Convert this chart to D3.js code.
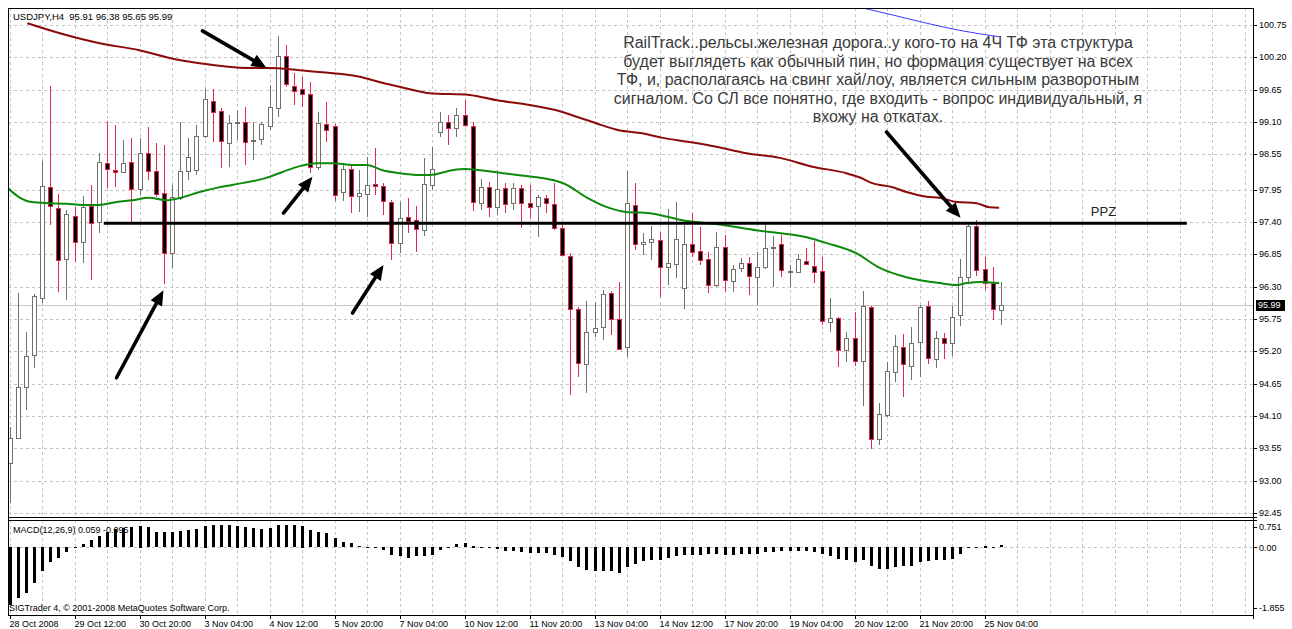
<!DOCTYPE html>
<html>
<head>
<meta charset="utf-8">
<script src="https://cdn.jsdelivr.net/npm/d3@7"></script>
<style>
  body { margin: 0; background: #fff; }
  text { font-family: "Liberation Sans", Arial, sans-serif; }
</style>
</head>
<body>
<div id="chart"></div>
<script>
// USDJPY H4, 28 Oct - 25 Nov 2008, one value per bar
const opens = [93.30,93.73,94.59,95.14,96.11,98.00,97.64,96.77,97.50,97.06,97.67,97.40,98.40,98.28,98.25,98.42,97.96,98.57,98.27,97.89,
  96.87,97.81,98.27,98.28,98.86,99.46,99.29,98.74,99.08,99.10,98.79,98.81,99.03,99.34,100.22,99.71,99.66,99.58,98.34,99.07,
  99.03,97.91,98.30,97.84,97.88,98.04,98.01,97.74,97.04,97.48,97.43,97.26,98.03,98.93,99.10,99.00,99.22,99.03,97.72,97.99,
  97.65,97.98,97.72,97.98,97.72,97.67,97.81,97.71,97.30,96.82,95.92,94.98,95.53,95.61,96.19,95.75,95.27,97.69,97.03,97.06,
  97.09,96.63,96.69,96.28,97.03,96.91,96.77,96.33,96.97,96.40,96.62,96.70,96.46,96.63,96.97,97.03,96.56,96.55,96.74,96.65,
  96.57,95.70,95.77,95.22,95.43,95.04,95.95,93.71,94.12,94.85,95.27,94.95,95.36,95.97,95.07,95.43,95.34,95.82,96.46,97.33,
  96.60,96.36,95.91];
const highs = [93.91,96.19,95.53,96.18,98.44,99.71,97.88,97.60,97.65,97.84,98.03,98.57,99.12,99.05,98.79,98.83,98.83,99.02,98.74,98.71,
  98.03,99.10,98.83,99.05,99.66,99.66,99.34,99.22,99.30,99.36,99.10,99.10,99.73,100.56,100.41,99.93,99.87,99.78,99.27,99.44,
  99.07,98.40,98.35,98.28,98.50,98.66,98.06,97.78,97.74,97.81,97.67,98.49,98.67,99.27,99.22,99.34,99.47,99.10,98.13,98.08,
  98.28,98.06,98.06,98.03,98.03,97.86,97.86,98.06,97.40,96.87,95.95,96.06,96.04,96.24,96.23,96.38,98.27,98.06,97.21,97.33,
  97.23,97.62,97.74,97.35,97.55,97.31,96.89,97.23,97.18,96.67,96.79,96.80,96.89,97.40,97.16,97.18,96.67,96.86,96.96,97.08,
  96.80,96.11,95.78,95.53,95.87,96.23,95.97,94.32,95.02,95.48,95.49,95.61,95.99,96.06,95.55,95.51,95.97,96.77,97.37,97.43,
  96.80,96.63,96.38];
const lows = [92.62,93.71,94.20,94.92,96.02,97.35,96.21,96.07,96.72,96.70,96.41,97.21,97.98,97.99,98.23,97.40,97.86,98.11,97.82,96.35,
  96.62,97.77,98.11,98.20,98.83,98.76,98.32,98.34,98.79,98.37,98.45,98.71,98.96,99.19,99.70,99.39,99.36,98.23,98.28,98.76,
  97.75,97.76,97.55,97.57,97.48,97.86,97.52,96.75,96.87,97.21,96.89,97.16,97.94,98.85,98.71,98.85,99.02,97.59,97.60,97.48,
  97.52,97.55,97.60,97.30,97.47,97.14,97.55,97.26,96.82,94.46,94.76,94.49,95.44,95.39,95.48,95.22,95.10,96.92,96.84,96.75,
  96.12,96.33,96.45,95.92,96.80,96.67,96.19,96.29,96.21,96.21,96.55,96.16,95.99,96.60,96.29,96.46,96.29,96.53,96.67,96.36,
  95.65,95.53,94.93,95.02,94.95,94.27,93.54,93.61,94.08,94.68,94.42,94.71,94.76,94.98,94.92,95.07,95.12,95.63,96.38,96.48,
  96.24,95.73,95.65];
const closes = [93.73,94.59,95.12,96.14,98.01,97.67,96.75,97.54,97.06,97.65,97.38,98.42,98.30,98.25,98.40,97.96,98.57,98.27,97.88,96.87,
  97.82,98.27,98.50,98.86,99.49,99.27,98.78,99.08,99.10,98.76,98.80,99.07,99.36,100.22,99.75,99.63,99.58,98.34,99.08,98.96,
  97.86,98.30,97.84,97.89,98.03,98.02,97.76,97.04,97.47,97.42,97.28,98.05,98.30,99.10,99.00,99.22,99.05,97.74,97.99,97.65,
  97.96,97.71,97.98,97.72,97.65,97.82,97.72,97.30,96.84,95.92,95.00,95.53,95.60,96.18,95.75,95.24,97.72,97.03,97.06,97.11,
  96.63,96.70,97.11,97.03,96.89,96.75,96.33,96.97,96.41,96.60,96.70,96.48,96.63,96.96,96.98,96.58,96.57,96.77,96.69,96.55,
  95.72,95.77,95.22,95.43,95.04,95.97,93.71,94.13,94.87,95.29,94.98,95.34,95.95,95.09,95.43,95.34,95.78,96.46,97.33,96.58,
  96.36,95.92,95.99];

// MACD(12,26,9) histogram, one value per bar
const macdHist = [-1.58,-1.41,-1.25,-1.00,-0.65,-0.40,-0.29,-0.15,-0.04,0.09,0.20,0.31,0.42,0.50,0.53,0.56,0.59,0.56,0.42,0.42,
  0.42,0.45,0.48,0.50,0.59,0.61,0.61,0.61,0.59,0.56,0.53,0.50,0.53,0.61,0.61,0.61,0.59,0.48,0.42,0.39,
  0.26,0.15,0.12,0.04,0.01,-0.01,-0.07,-0.21,-0.24,-0.29,-0.26,-0.26,-0.21,-0.07,-0.01,0.09,0.12,0.05,0.01,-0.04,
  -0.06,-0.10,-0.12,-0.13,-0.16,-0.16,-0.16,-0.21,-0.27,-0.39,-0.56,-0.64,-0.67,-0.67,-0.67,-0.71,-0.56,-0.46,-0.39,-0.35,
  -0.35,-0.30,-0.24,-0.21,-0.21,-0.21,-0.18,-0.18,-0.21,-0.21,-0.18,-0.18,-0.18,-0.15,-0.13,-0.12,-0.12,-0.12,-0.12,-0.13,
  -0.18,-0.24,-0.32,-0.36,-0.42,-0.35,-0.51,-0.60,-0.60,-0.55,-0.53,-0.51,-0.42,-0.39,-0.36,-0.35,-0.32,-0.18,-0.02,0.02,
  0.05,0.02,0.059];

// moving averages: [bar, price]
const redMA = [[2.2,100.78],[6.2,100.61],[11.1,100.44],[16,100.32],[19.7,100.19],[23.4,100.10],[29.5,100.02],[32,100.02],
  [35.7,99.98],[39.8,99.93],[43.1,99.87],[45.5,99.78],[48,99.70],[51.7,99.59],[56.6,99.56],[60,99.47],[64,99.39],[67.3,99.30],
  [69.8,99.19],[72.2,99.08],[75,98.96],[77.9,98.91],[80.4,98.83],[83.7,98.76],[87,98.68],[90.7,98.57],[94.8,98.49],[98.8,98.34],
  [103,98.23],[104.6,98.16],[106.2,98.06],[108.7,97.99],[110.4,97.91],[112.9,97.83],[114.5,97.81],[116.6,97.74],[119,97.72],
  [120.6,97.65],[121.8,97.64]];
const greenMA = [[-0.25,97.98],[1.2,97.82],[2.7,97.74],[4.9,97.72],[7,97.71],[9,97.69],[11,97.69],[13.2,97.74],[15.1,97.77],
  [17.2,97.81],[19.3,97.77],[21,97.81],[23.4,97.91],[25.5,97.98],[27.4,98.03],[31.6,98.15],[33.6,98.25],[35.7,98.35],[37.8,98.40],
  [39.8,98.40],[42.2,98.37],[44,98.37],[45.9,98.28],[48,98.23],[50.5,98.20],[51.7,98.20],[54.5,98.28],[56,98.30],[60.7,98.23],
  [64.9,98.16],[67,98.11],[68.3,98.05],[71,97.82],[73.8,97.64],[75.9,97.57],[78.8,97.55],[82.8,97.43],[87.8,97.35],[91.9,97.26],
  [98.1,97.14],[100.6,97.04],[104.2,96.87],[107.1,96.62],[110.4,96.46],[114.5,96.36],[116.6,96.33],[117.8,96.36],[119.4,96.38],
  [121.8,96.36]];
const blueMA = [[104.4,101.06],[108.7,100.92],[112.9,100.78],[116.9,100.66],[121.8,100.55]];

const priceTicks = [100.75,100.20,99.65,99.10,98.55,97.95,97.40,96.85,96.30,95.75,95.20,94.65,94.10,93.55,93.00,92.45];
const macdTicks = [0.751,0.00,-1.855];
const timeBars = [0,8,16,24,32,40,48,56,64,72,80,88,96,104,112,120];
const timeLabels = ["28 Oct 2008","29 Oct 12:00","30 Oct 20:00","3 Nov 04:00","4 Nov 12:00","5 Nov 20:00","7 Nov 04:00",
  "10 Nov 12:00","11 Nov 20:00","13 Nov 04:00","14 Nov 12:00","17 Nov 20:00","19 Nov 04:00","20 Nov 12:00","21 Nov 20:00","25 Nov 04:00"];

const bidPrice = 95.99;
const ppzLevel = 97.38, ppzStart = 11.6, ppzEnd = 144.9;
// arrows drawn on the chart: tail and tip as [bar, price]
const arrowTails = [[23.75,100.65],[33.72,97.55],[13.17,94.75],[42.22,95.85],[107.94,98.93]];
const arrowTips  = [[31.63,100.02],[37.29,98.17],[18.95,96.24],[46.03,96.67],[117.05,97.47]];

const symbolLabel = "USDJPY,H4  95.91 96.38 95.65 95.99";
const macdLabel = "MACD(12,26,9) 0.059 -0.095";
const copyright = "SIGTrader 4, \u00a9 2001-2008 MetaQuotes Software Corp.";
const noteLines = [
  "RailTrack..рельсы.железная дорога..у кого-то на 4Ч ТФ эта структура",
  "будет выглядеть как обычный пин, но формация существует на всех",
  "ТФ, и, располагаясь на свинг хай/лоу, является сильным разворотным",
  "сигналом. Со СЛ все понятно, где входить - вопрос индивидуальный, я",
  "вхожу на откатах."
];

const W = 1292, H = 629;
const padL = 8, padT = 8, padR = 1253, mainBottom = 517, macdTop = 520, macdBottom = 615;
const bullLine = "#707070", bearLine = "#e3284f";

const svg = d3.select("#chart").append("svg").attr("width", W).attr("height", H)
  .style("display", "block").style("background", "#fff");

const x = d3.scaleLinear().domain([0, 152]).range([9.5, 1244.5]);
const y = d3.scaleLinear().domain([92.45, 100.75]).range([513, 25]);
const ym = d3.scaleLinear().domain([-1.855, 0.751]).range([macdBottom, macdTop]);
const px = i => Math.round(x(i)) + 0.5;
const crisp = v => Math.round(v) + 0.5;

const defs = svg.append("defs");
defs.append("clipPath").attr("id", "mainClip").append("rect")
  .attr("x", padL).attr("y", padT).attr("width", padR - padL).attr("height", mainBottom - padT);

// grid
const grid = svg.append("g").attr("stroke", "#c4c4c4").attr("stroke-dasharray", "3,3").attr("stroke-width", 1);
d3.range(0, 153, 4).forEach(i => {
  grid.append("line").attr("x1", px(i)).attr("x2", px(i)).attr("y1", padT).attr("y2", mainBottom);
  grid.append("line").attr("x1", px(i)).attr("x2", px(i)).attr("y1", macdTop).attr("y2", macdBottom);
});
priceTicks.forEach(p => grid.append("line").attr("x1", padL).attr("x2", padR)
  .attr("y1", crisp(y(p))).attr("y2", crisp(y(p))));
grid.append("line").attr("x1", padL).attr("x2", padR).attr("y1", crisp(ym(0))).attr("y2", crisp(ym(0)));

// bid line
svg.append("line").attr("x1", padL).attr("x2", padR).attr("y1", crisp(y(bidPrice))).attr("y2", crisp(y(bidPrice)))
  .attr("stroke", "#c8c8c8");

const plot = svg.append("g").attr("clip-path", "url(#mainClip)");

// candles
const bars = opens.map((o, i) => ({ i, o, h: highs[i], l: lows[i], c: closes[i], up: closes[i] >= o }));
const candle = plot.selectAll("g.candle").data(bars).join("g").attr("class", "candle");
candle.append("line")
  .attr("x1", d => px(d.i)).attr("x2", d => px(d.i))
  .attr("y1", d => Math.round(y(d.h))).attr("y2", d => Math.round(y(d.l)))
  .attr("stroke", d => d.up ? bullLine : bearLine);
candle.append("rect")
  .attr("x", d => px(d.i) - 2).attr("width", 4)
  .attr("y", d => crisp(y(Math.max(d.o, d.c))))
  .attr("height", d => Math.max(1, Math.round(y(Math.min(d.o, d.c))) - Math.round(y(Math.max(d.o, d.c)))))
  .attr("fill", d => d.up ? "#fff" : "#000")
  .attr("stroke", d => d.up ? bullLine : bearLine);

// moving averages
const maLine = d3.line().x(d => x(d[0])).y(d => y(d[1])).curve(d3.curveMonotoneX);
plot.append("path").attr("d", maLine(redMA)).attr("fill", "none").attr("stroke", "#8b0a0a").attr("stroke-width", 2);
plot.append("path").attr("d", maLine(greenMA)).attr("fill", "none").attr("stroke", "#0b8a0b").attr("stroke-width", 2);
plot.append("path").attr("d", maLine(blueMA)).attr("fill", "none").attr("stroke", "#3a3aff").attr("stroke-width", 1);

// PPZ horizontal level
svg.append("line").attr("x1", x(ppzStart)).attr("x2", x(ppzEnd))
  .attr("y1", y(ppzLevel)).attr("y2", y(ppzLevel)).attr("stroke", "#000").attr("stroke-width", 3);
svg.append("text").attr("x", x(ppzEnd) - 96).attr("y", y(ppzLevel) - 7)
  .style("font-size", "13px").attr("fill", "#222").text("PPZ");

// arrows
const arrows = svg.append("g");
arrowTails.forEach((t, k) => {
  const x1 = x(t[0]), y1 = y(t[1]), x2 = x(arrowTips[k][0]), y2 = y(arrowTips[k][1]);
  const a = Math.atan2(y2 - y1, x2 - x1), L = 15, hw = 6.5;
  const bx = x2 - L * Math.cos(a), by = y2 - L * Math.sin(a);
  arrows.append("line").attr("x1", x1).attr("y1", y1).attr("x2", bx + 2 * Math.cos(a)).attr("y2", by + 2 * Math.sin(a))
    .attr("stroke", "#000").attr("stroke-width", 3.6).attr("stroke-linecap", "round");
  arrows.append("polygon").attr("fill", "#000").attr("points", [
    [x2, y2],
    [bx - hw * Math.sin(a), by + hw * Math.cos(a)],
    [bx + hw * Math.sin(a), by - hw * Math.cos(a)]
  ].map(p => p.join(",")).join(" "));
});

// annotation
const note = svg.append("text").attr("text-anchor", "middle").attr("fill", "#3a3a3a").style("font-size", "14px");
noteLines.forEach((t, k) => note.append("tspan").attr("x", 878).attr("y", 48 + k * 18.5).text(t));
const noteW = note.select("tspan").node().getComputedTextLength();
note.style("font-size", (14 * 510 / noteW) + "px");

// MACD histogram
svg.append("text").attr("x", 13).attr("y", 533).style("font-size", "9px").attr("fill", "#000").text(macdLabel);
svg.append("text").attr("x", 9).attr("y", 611).style("font-size", "9px").attr("fill", "#000").text(copyright);
svg.append("g").selectAll("rect").data(macdHist).join("rect")
  .attr("x", (v, i) => Math.round(x(i)) - 1).attr("width", 3)
  .attr("y", v => Math.round(Math.min(ym(v), ym(0))))
  .attr("height", v => Math.max(1, Math.round(Math.abs(ym(v) - ym(0)))))
  .attr("fill", "#000");

// frame
const frame = svg.append("g").attr("stroke", "#000").attr("fill", "none");
frame.append("line").attr("x1", padL + 0.5).attr("x2", padL + 0.5).attr("y1", padT).attr("y2", macdBottom);
frame.append("line").attr("x1", padR + 0.5).attr("x2", padR + 0.5).attr("y1", padT).attr("y2", macdBottom + 4);
frame.append("line").attr("x1", padL).attr("x2", padR).attr("y1", padT + 0.5).attr("y2", padT + 0.5);
frame.append("line").attr("x1", padL).attr("x2", padR + 4).attr("y1", mainBottom + 0.5).attr("y2", mainBottom + 0.5);
frame.append("line").attr("x1", padL).attr("x2", padR + 4).attr("y1", macdTop + 0.5).attr("y2", macdTop + 0.5);
frame.append("line").attr("x1", padL).attr("x2", padR).attr("y1", macdBottom + 0.5).attr("y2", macdBottom + 0.5);

// price axis
priceTicks.forEach(p => {
  svg.append("line").attr("x1", padR).attr("x2", padR + 4).attr("y1", crisp(y(p))).attr("y2", crisp(y(p))).attr("stroke", "#000");
  svg.append("text").attr("x", 1259).attr("y", y(p)).attr("dy", "0.35em").style("font-size", "9px").text(p.toFixed(2));
});
svg.append("rect").attr("x", 1256).attr("y", Math.round(y(bidPrice)) - 5).attr("width", 29).attr("height", 11).attr("fill", "#000");
svg.append("text").attr("x", 1258).attr("y", y(bidPrice)).attr("dy", "0.35em").style("font-size", "9px")
  .attr("fill", "#fff").text(bidPrice.toFixed(2));

// MACD axis
macdTicks.forEach(v => {
  const yy = Math.min(Math.max(ym(v), macdTop + 7), macdBottom - 7);
  svg.append("line").attr("x1", padR).attr("x2", padR + 4).attr("y1", crisp(yy)).attr("y2", crisp(yy)).attr("stroke", "#000");
  svg.append("text").attr("x", 1259).attr("y", yy).attr("dy", "0.35em").style("font-size", "9px")
    .text(v === 0 ? "0.00" : String(v));
});

// time axis
timeBars.forEach((b, k) => {
  svg.append("line").attr("x1", px(b)).attr("x2", px(b)).attr("y1", macdBottom).attr("y2", macdBottom + 4).attr("stroke", "#000");
  svg.append("text").attr("x", x(b)).attr("y", 627).style("font-size", "9px").text(timeLabels[k]);
});

// symbol header
svg.append("text").attr("x", 13).attr("y", 20).style("font-size", "9.5px").style("white-space", "pre")
  .attr("fill", "#000").text(symbolLabel);
</script>
</body>
</html>
